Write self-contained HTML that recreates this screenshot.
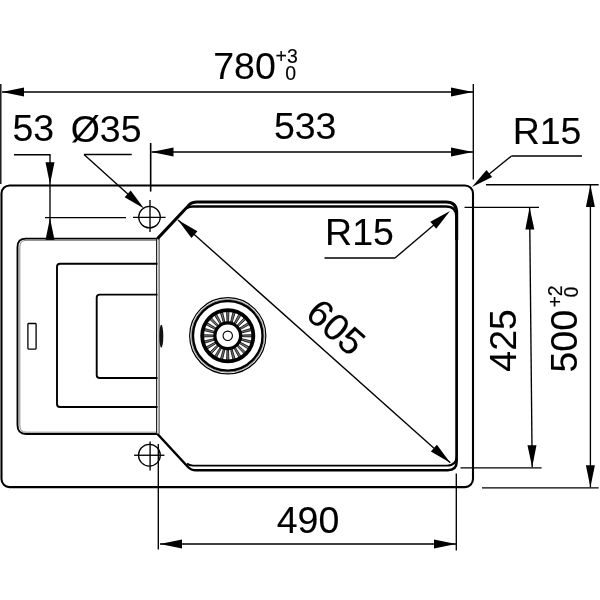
<!DOCTYPE html>
<html><head><meta charset="utf-8"><style>
html,body{margin:0;padding:0;background:#fff;width:600px;height:600px;overflow:hidden}
svg{display:block;will-change:transform}
text{font-family:"Liberation Sans",sans-serif;fill:#000}
</style></head><body>
<svg width="600" height="600" viewBox="0 0 600 600">
<line x1="0.8" y1="84" x2="0.8" y2="184" stroke="#000" stroke-width="1.35"/>
<line x1="473.3" y1="84" x2="473.3" y2="179.5" stroke="#000" stroke-width="1.35"/>
<line x1="2" y1="92" x2="473" y2="92" stroke="#000" stroke-width="1.35"/>
<polygon points="2,92 24,87.5 24,96.5" fill="#000"/>
<polygon points="473,92 451,96.5 451,87.5" fill="#000"/>
<text x="0" y="0" font-size="37.5" transform="translate(213.25 78.99)" stroke="#000" stroke-width="0.1">780</text>
<text x="0" y="0" font-size="19.5" transform="translate(275.45 63.03)" stroke="#000" stroke-width="0.15">+</text>
<text x="0" y="0" font-size="19.5" transform="translate(286.94 63.38)" stroke="#000" stroke-width="0.15">3</text>
<text x="0" y="0" font-size="19.5" transform="translate(285.14 79.78)" stroke="#000" stroke-width="0.15">0</text>
<line x1="150.6" y1="143" x2="150.6" y2="191.5" stroke="#000" stroke-width="1.35"/>
<line x1="151.5" y1="152" x2="473" y2="152" stroke="#000" stroke-width="1.35"/>
<polygon points="151.5,152 173.5,147.5 173.5,156.5" fill="#000"/>
<polygon points="473,152 451,156.5 451,147.5" fill="#000"/>
<text x="0" y="0" font-size="37.5" transform="translate(273.88 139.24)" stroke="#000" stroke-width="0.1">533</text>
<text x="0" y="0" font-size="37.5" transform="translate(12.39 141.19)" stroke="#000" stroke-width="0.1">53</text>
<line x1="14" y1="154.7" x2="50.6" y2="154.7" stroke="#000" stroke-width="1.35"/>
<line x1="50" y1="154.7" x2="50" y2="240" stroke="#000" stroke-width="1.35"/>
<polygon points="50,184.3 45.5,162.3 54.5,162.3" fill="#000"/>
<polygon points="50,218 54.5,240 45.5,240" fill="#000"/>
<line x1="45" y1="217.6" x2="126" y2="217.6" stroke="#000" stroke-width="1.35"/>
<text x="0" y="0" font-size="37.5" transform="translate(70.66 142.02)" stroke="#000" stroke-width="0.1">Ø35</text>
<line x1="84" y1="154.5" x2="131.7" y2="154.5" stroke="#000" stroke-width="1.35"/>
<line x1="84" y1="154.5" x2="135" y2="200.5" stroke="#000" stroke-width="1.35"/>
<polygon points="144,208.6 124.65,197.21 130.67,190.53" fill="#000"/>
<circle cx="149.5" cy="217.1" r="10.8" fill="none" stroke="#000" stroke-width="1.25"/>
<line x1="133" y1="217.3" x2="165.6" y2="217.3" stroke="#000" stroke-width="1.35"/>
<line x1="150" y1="199.9" x2="150" y2="232.1" stroke="#000" stroke-width="1.35"/>
<circle cx="149.4" cy="455.2" r="10.9" fill="none" stroke="#000" stroke-width="1.25"/>
<line x1="134.1" y1="455.25" x2="164.4" y2="455.25" stroke="#000" stroke-width="1.35"/>
<line x1="150.1" y1="441.4" x2="150.1" y2="470.6" stroke="#000" stroke-width="1.35"/>
<line x1="150.6" y1="143" x2="150.6" y2="191.3" stroke="#000" stroke-width="1.35"/>
<text x="0" y="0" font-size="37.5" transform="translate(512.64 143.65)" stroke="#000" stroke-width="0.1">R15</text>
<line x1="511.5" y1="156" x2="582" y2="156" stroke="#000" stroke-width="1.35"/>
<line x1="511.5" y1="156" x2="488" y2="175" stroke="#000" stroke-width="1.35"/>
<polygon points="472,187 486.53,169.88 492.08,176.96" fill="#000"/>
<rect x="1.5" y="185.5" width="471.5" height="301.6" rx="8" fill="none" stroke="#000" stroke-width="2.1"/>
<path d="M157.5,238.6 L26,238.6 Q17.5,238.6 17.5,247 L17.5,425 Q17.5,434 26,434 L157.5,434" fill="none" stroke="#000" stroke-width="1.9"/>
<path d="M156,240.4 L26,240.4 Q19.8,240.4 19.8,247 L19.8,425 Q19.8,432.2 26,432.2 L156,432.2" fill="none" stroke="#888" stroke-width="1"/>
<line x1="156.6" y1="238.6" x2="156.6" y2="433.8" stroke="#222" stroke-width="1.2"/>
<line x1="159.1" y1="238.6" x2="159.1" y2="433.8" stroke="#444" stroke-width="1.1"/>
<path d="M157.5,263.8 L60,263.8 Q57,263.8 57,266.8 L57,404 Q57,407 60,407 L157.5,407" fill="none" stroke="#000" stroke-width="1.9"/>
<path d="M157.5,294.6 L99.7,294.6 Q96.7,294.6 96.7,297.6 L96.7,375 Q96.7,378 99.7,378 L157.5,378" fill="none" stroke="#000" stroke-width="1.9"/>
<rect x="27.9" y="323.5" width="8.2" height="25.6" rx="0.8" fill="none" stroke="#000" stroke-width="1.3"/>
<ellipse cx="161.3" cy="336.2" rx="2" ry="11.5" fill="#111"/>
<path d="M157.5,238.6 L190,204 Q192,201.9 197,201.9 L446,201.9 Q456.7,201.9 456.7,212.6 L456.7,240" fill="none" stroke="#000" stroke-width="3"/>
<path d="M456.7,239 L456.7,461.3 Q456.7,470.3 447.7,470.3 L196,470.3 Q191,470.3 188,467 L157.5,434" fill="none" stroke="#000" stroke-width="2.5"/>
<path d="M186.7,208.2 Q188.7,206.5 193,206.5 L446,206.5 Q456.5,206.5 456.5,217 L456.5,240" fill="none" stroke="#000" stroke-width="2.5"/>
<path d="M456.5,239 L456.5,456 Q456.5,465.6 447,465.6 L193,465.6 Q189,465.6 187,463.5" fill="none" stroke="#000" stroke-width="1.9"/>
<text x="0" y="0" font-size="37.5" transform="translate(325.09 245.45)" stroke="#000" stroke-width="0.1">R15</text>
<line x1="324.5" y1="258" x2="395" y2="258" stroke="#000" stroke-width="1.35"/>
<line x1="395" y1="258" x2="435" y2="224" stroke="#000" stroke-width="1.35"/>
<polygon points="450,211 436.2,228.71 430.35,221.87" fill="#000"/>
<line x1="178" y1="220" x2="450.3" y2="462.7" stroke="#000" stroke-width="1.35"/>
<polygon points="178,220 197.42,231.28 191.43,238" fill="#000"/>
<polygon points="450.3,462.7 430.88,451.42 436.87,444.7" fill="#000"/>
<text x="0" y="0" font-size="37.5" transform="translate(304.07 316.1) rotate(41.7)" stroke="#000" stroke-width="0.1">605</text>
<circle cx="227.75" cy="335.8" r="38.1" fill="none" stroke="#000" stroke-width="1.2"/>
<circle cx="227.75" cy="335.8" r="36.5" fill="none" stroke="#999" stroke-width="1"/>
<circle cx="227.75" cy="335.8" r="34.8" fill="none" stroke="#000" stroke-width="2.4"/>
<polygon points="241.75,336.6 252.25,336.95 252.25,334.65 241.75,335" fill="#777" stroke="#000" stroke-width="0.8"/>
<polygon points="241.07,340.2 251.12,343.25 251.71,341.03 241.48,338.65" fill="#777" stroke="#000" stroke-width="0.8"/>
<polygon points="239.47,343.49 248.39,349.05 249.54,347.05 240.27,342.11" fill="#777" stroke="#000" stroke-width="0.8"/>
<polygon points="237.08,346.27 244.26,353.94 245.89,352.31 238.22,345.13" fill="#777" stroke="#000" stroke-width="0.8"/>
<polygon points="234.06,348.32 239,357.59 241,356.44 235.44,347.52" fill="#777" stroke="#000" stroke-width="0.8"/>
<polygon points="230.6,349.53 232.98,359.76 235.2,359.17 232.15,349.12" fill="#777" stroke="#000" stroke-width="0.8"/>
<polygon points="226.95,349.8 226.6,360.3 228.9,360.3 228.55,349.8" fill="#777" stroke="#000" stroke-width="0.8"/>
<polygon points="223.35,349.12 220.3,359.17 222.52,359.76 224.9,349.53" fill="#777" stroke="#000" stroke-width="0.8"/>
<polygon points="220.06,347.52 214.5,356.44 216.5,357.59 221.44,348.32" fill="#777" stroke="#000" stroke-width="0.8"/>
<polygon points="217.28,345.13 209.61,352.31 211.24,353.94 218.42,346.27" fill="#777" stroke="#000" stroke-width="0.8"/>
<polygon points="215.23,342.11 205.96,347.05 207.11,349.05 216.03,343.49" fill="#777" stroke="#000" stroke-width="0.8"/>
<polygon points="214.02,338.65 203.79,341.03 204.38,343.25 214.43,340.2" fill="#777" stroke="#000" stroke-width="0.8"/>
<polygon points="213.75,335 203.25,334.65 203.25,336.95 213.75,336.6" fill="#777" stroke="#000" stroke-width="0.8"/>
<polygon points="214.43,331.4 204.38,328.35 203.79,330.57 214.02,332.95" fill="#777" stroke="#000" stroke-width="0.8"/>
<polygon points="216.03,328.11 207.11,322.55 205.96,324.55 215.23,329.49" fill="#777" stroke="#000" stroke-width="0.8"/>
<polygon points="218.42,325.33 211.24,317.66 209.61,319.29 217.28,326.47" fill="#777" stroke="#000" stroke-width="0.8"/>
<polygon points="221.44,323.28 216.5,314.01 214.5,315.16 220.06,324.08" fill="#777" stroke="#000" stroke-width="0.8"/>
<polygon points="224.9,322.07 222.52,311.84 220.3,312.43 223.35,322.48" fill="#777" stroke="#000" stroke-width="0.8"/>
<polygon points="228.55,321.8 228.9,311.3 226.6,311.3 226.95,321.8" fill="#777" stroke="#000" stroke-width="0.8"/>
<polygon points="232.15,322.48 235.2,312.43 232.98,311.84 230.6,322.07" fill="#777" stroke="#000" stroke-width="0.8"/>
<polygon points="235.44,324.08 241,315.16 239,314.01 234.06,323.28" fill="#777" stroke="#000" stroke-width="0.8"/>
<polygon points="238.22,326.47 245.89,319.29 244.26,317.66 237.08,325.33" fill="#777" stroke="#000" stroke-width="0.8"/>
<polygon points="240.27,329.49 249.54,324.55 248.39,322.55 239.47,328.11" fill="#777" stroke="#000" stroke-width="0.8"/>
<polygon points="241.48,332.95 251.71,330.57 251.12,328.35 241.07,331.4" fill="#777" stroke="#000" stroke-width="0.8"/>
<circle cx="227.75" cy="335.8" r="25.6" fill="none" stroke="#000" stroke-width="3.8"/>
<circle cx="227.75" cy="335.8" r="12.85" fill="none" stroke="#000" stroke-width="3.2"/>
<circle cx="227.75" cy="335.8" r="4.7" fill="none" stroke="#000" stroke-width="1.1"/>
<line x1="464.5" y1="207.3" x2="539" y2="207.3" stroke="#000" stroke-width="1.35"/>
<line x1="460.5" y1="467.8" x2="541.6" y2="467.8" stroke="#000" stroke-width="1.35"/>
<line x1="529.6" y1="207.5" x2="532.2" y2="467.2" stroke="#000" stroke-width="1.35"/>
<polygon points="529.6,207.5 534.32,229.45 525.32,229.54" fill="#000"/>
<polygon points="532.2,467.2 527.48,445.25 536.48,445.16" fill="#000"/>
<text x="0" y="0" font-size="37.5" transform="translate(516.29 371.64) rotate(-90)" stroke="#000" stroke-width="0.1">425</text>
<line x1="486" y1="184.7" x2="598.7" y2="184.7" stroke="#000" stroke-width="1.35"/>
<line x1="482" y1="487.8" x2="598.7" y2="487.8" stroke="#000" stroke-width="1.35"/>
<line x1="590.4" y1="185" x2="590.4" y2="487.3" stroke="#000" stroke-width="1.35"/>
<polygon points="590.4,185 594.9,207 585.9,207" fill="#000"/>
<polygon points="590.4,487.3 585.9,465.3 594.9,465.3" fill="#000"/>
<text x="0" y="0" font-size="37.5" transform="translate(577.34 372.56) rotate(-90)" stroke="#000" stroke-width="0.1">500</text>
<text x="0" y="0" font-size="19.5" transform="translate(561.83 307.45) rotate(-90)" stroke="#000" stroke-width="0.15">+</text>
<text x="0" y="0" font-size="19.5" transform="translate(561.83 296.26) rotate(-90)" stroke="#000" stroke-width="0.15">2</text>
<text x="0" y="0" font-size="19.5" transform="translate(578.43 297.46) rotate(-90)" stroke="#000" stroke-width="0.15">0</text>
<line x1="158.3" y1="444" x2="158.3" y2="549.6" stroke="#000" stroke-width="1.35"/>
<line x1="456.3" y1="473.5" x2="456.3" y2="550.6" stroke="#000" stroke-width="1.35"/>
<line x1="160" y1="544" x2="456" y2="544" stroke="#000" stroke-width="1.35"/>
<polygon points="160,544 182,539.5 182,548.5" fill="#000"/>
<polygon points="456,544 434,548.5 434,539.5" fill="#000"/>
<text x="0" y="0" font-size="37.5" transform="translate(276.71 532.74)" stroke="#000" stroke-width="0.1">490</text>
</svg>
</body></html>
